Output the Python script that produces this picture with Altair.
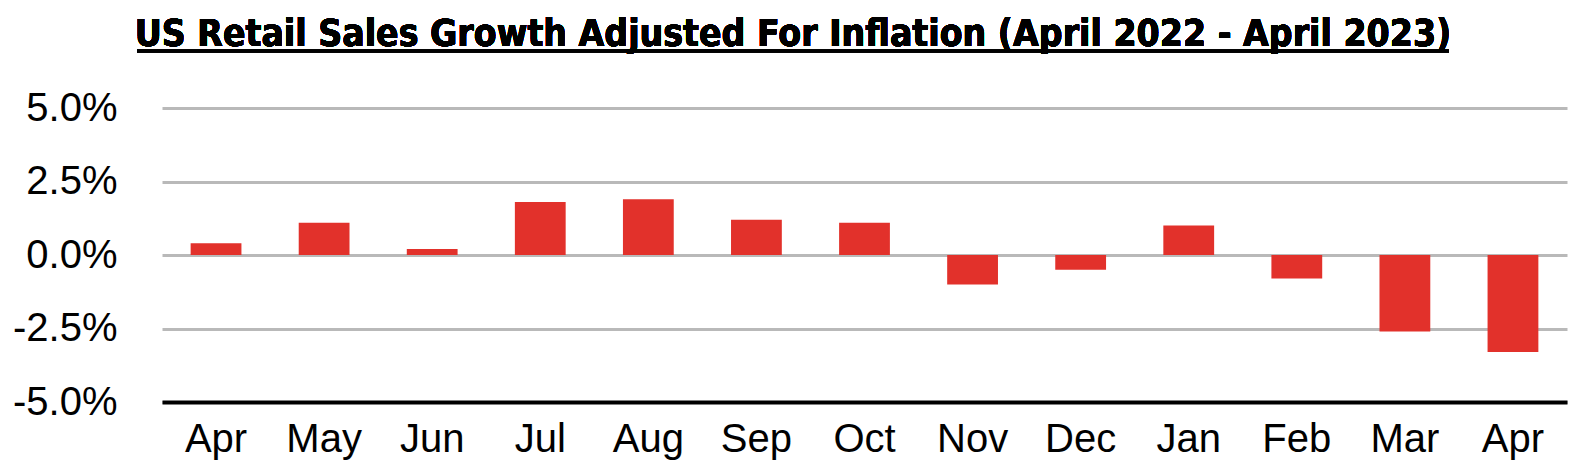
import altair as alt
import pandas as pd

months = ["Apr", "May", "Jun", "Jul", "Aug", "Sep", "Oct", "Nov", "Dec", "Jan", "Feb", "Mar", "Apr "]
growth = [0.4, 1.1, 0.2, 1.8, 1.9, 1.2, 1.1, -1.0, -0.5, 1.0, -0.8, -2.6, -3.3]
y_ticks = [-5.0, -2.5, 0.0, 2.5, 5.0]
title_text = "US Retail Sales Growth Adjusted For Inflation (April 2022 - April 2023)"

df = pd.DataFrame({"month": months, "growth": growth})

FONT = "Liberation Sans, Arial, Helvetica, sans-serif"
TITLE_FONT = "Liberation Sans Narrow, Arial Narrow, DejaVu Sans Condensed, sans-serif"

bars = alt.Chart(df).mark_bar(color="#e2312b").encode(
    x=alt.X(
        "month:N",
        sort=months,
        scale=alt.Scale(paddingInner=0.53, paddingOuter=0.265),
        axis=alt.Axis(
            title=None,
            labelAngle=0,
            labelFontSize=40,
            labelFont=FONT,
            labelColor="black",
            labelPadding=17,
            ticks=False,
            domainColor="black",
            domainWidth=4,
            grid=False,
        ),
    ),
    y=alt.Y(
        "growth:Q",
        scale=alt.Scale(domain=[-5, 5], nice=False),
        axis=alt.Axis(
            title=None,
            values=y_ticks,
            labelExpr="(datum.value < 0 ? '-' : '') + format(abs(datum.value), '.1f') + '%'",
            labelFontSize=40,
            labelFont=FONT,
            labelColor="black",
            labelPadding=45,
            ticks=False,
            domain=False,
            gridColor="#b9b9b9",
            gridWidth=3,
            gridOpacity=1,
        ),
    ),
)

title = alt.Chart(df).mark_text(
    text=title_text,
    font=TITLE_FONT,
    fontSize=37,
    fontWeight="bold",
    color="black",
    align="center",
    baseline="alphabetic",
).encode(x=alt.value(631), y=alt.value(-62))

underline = alt.Chart(df).mark_rule(color="black", strokeWidth=2.5).encode(
    x=alt.value(-25), x2=alt.value(1287), y=alt.value(-57)
)

chart = (
    alt.layer(bars, title, underline)
    .properties(
        width=1405,
        height=294,
        padding={"left": 4, "top": 8, "right": 10, "bottom": 5},
    )
    .configure(background="white", view=alt.ViewConfig(stroke=None, strokeWidth=0))
)

chart.save("out.html", embed_options={"renderer": "svg", "actions": False})
